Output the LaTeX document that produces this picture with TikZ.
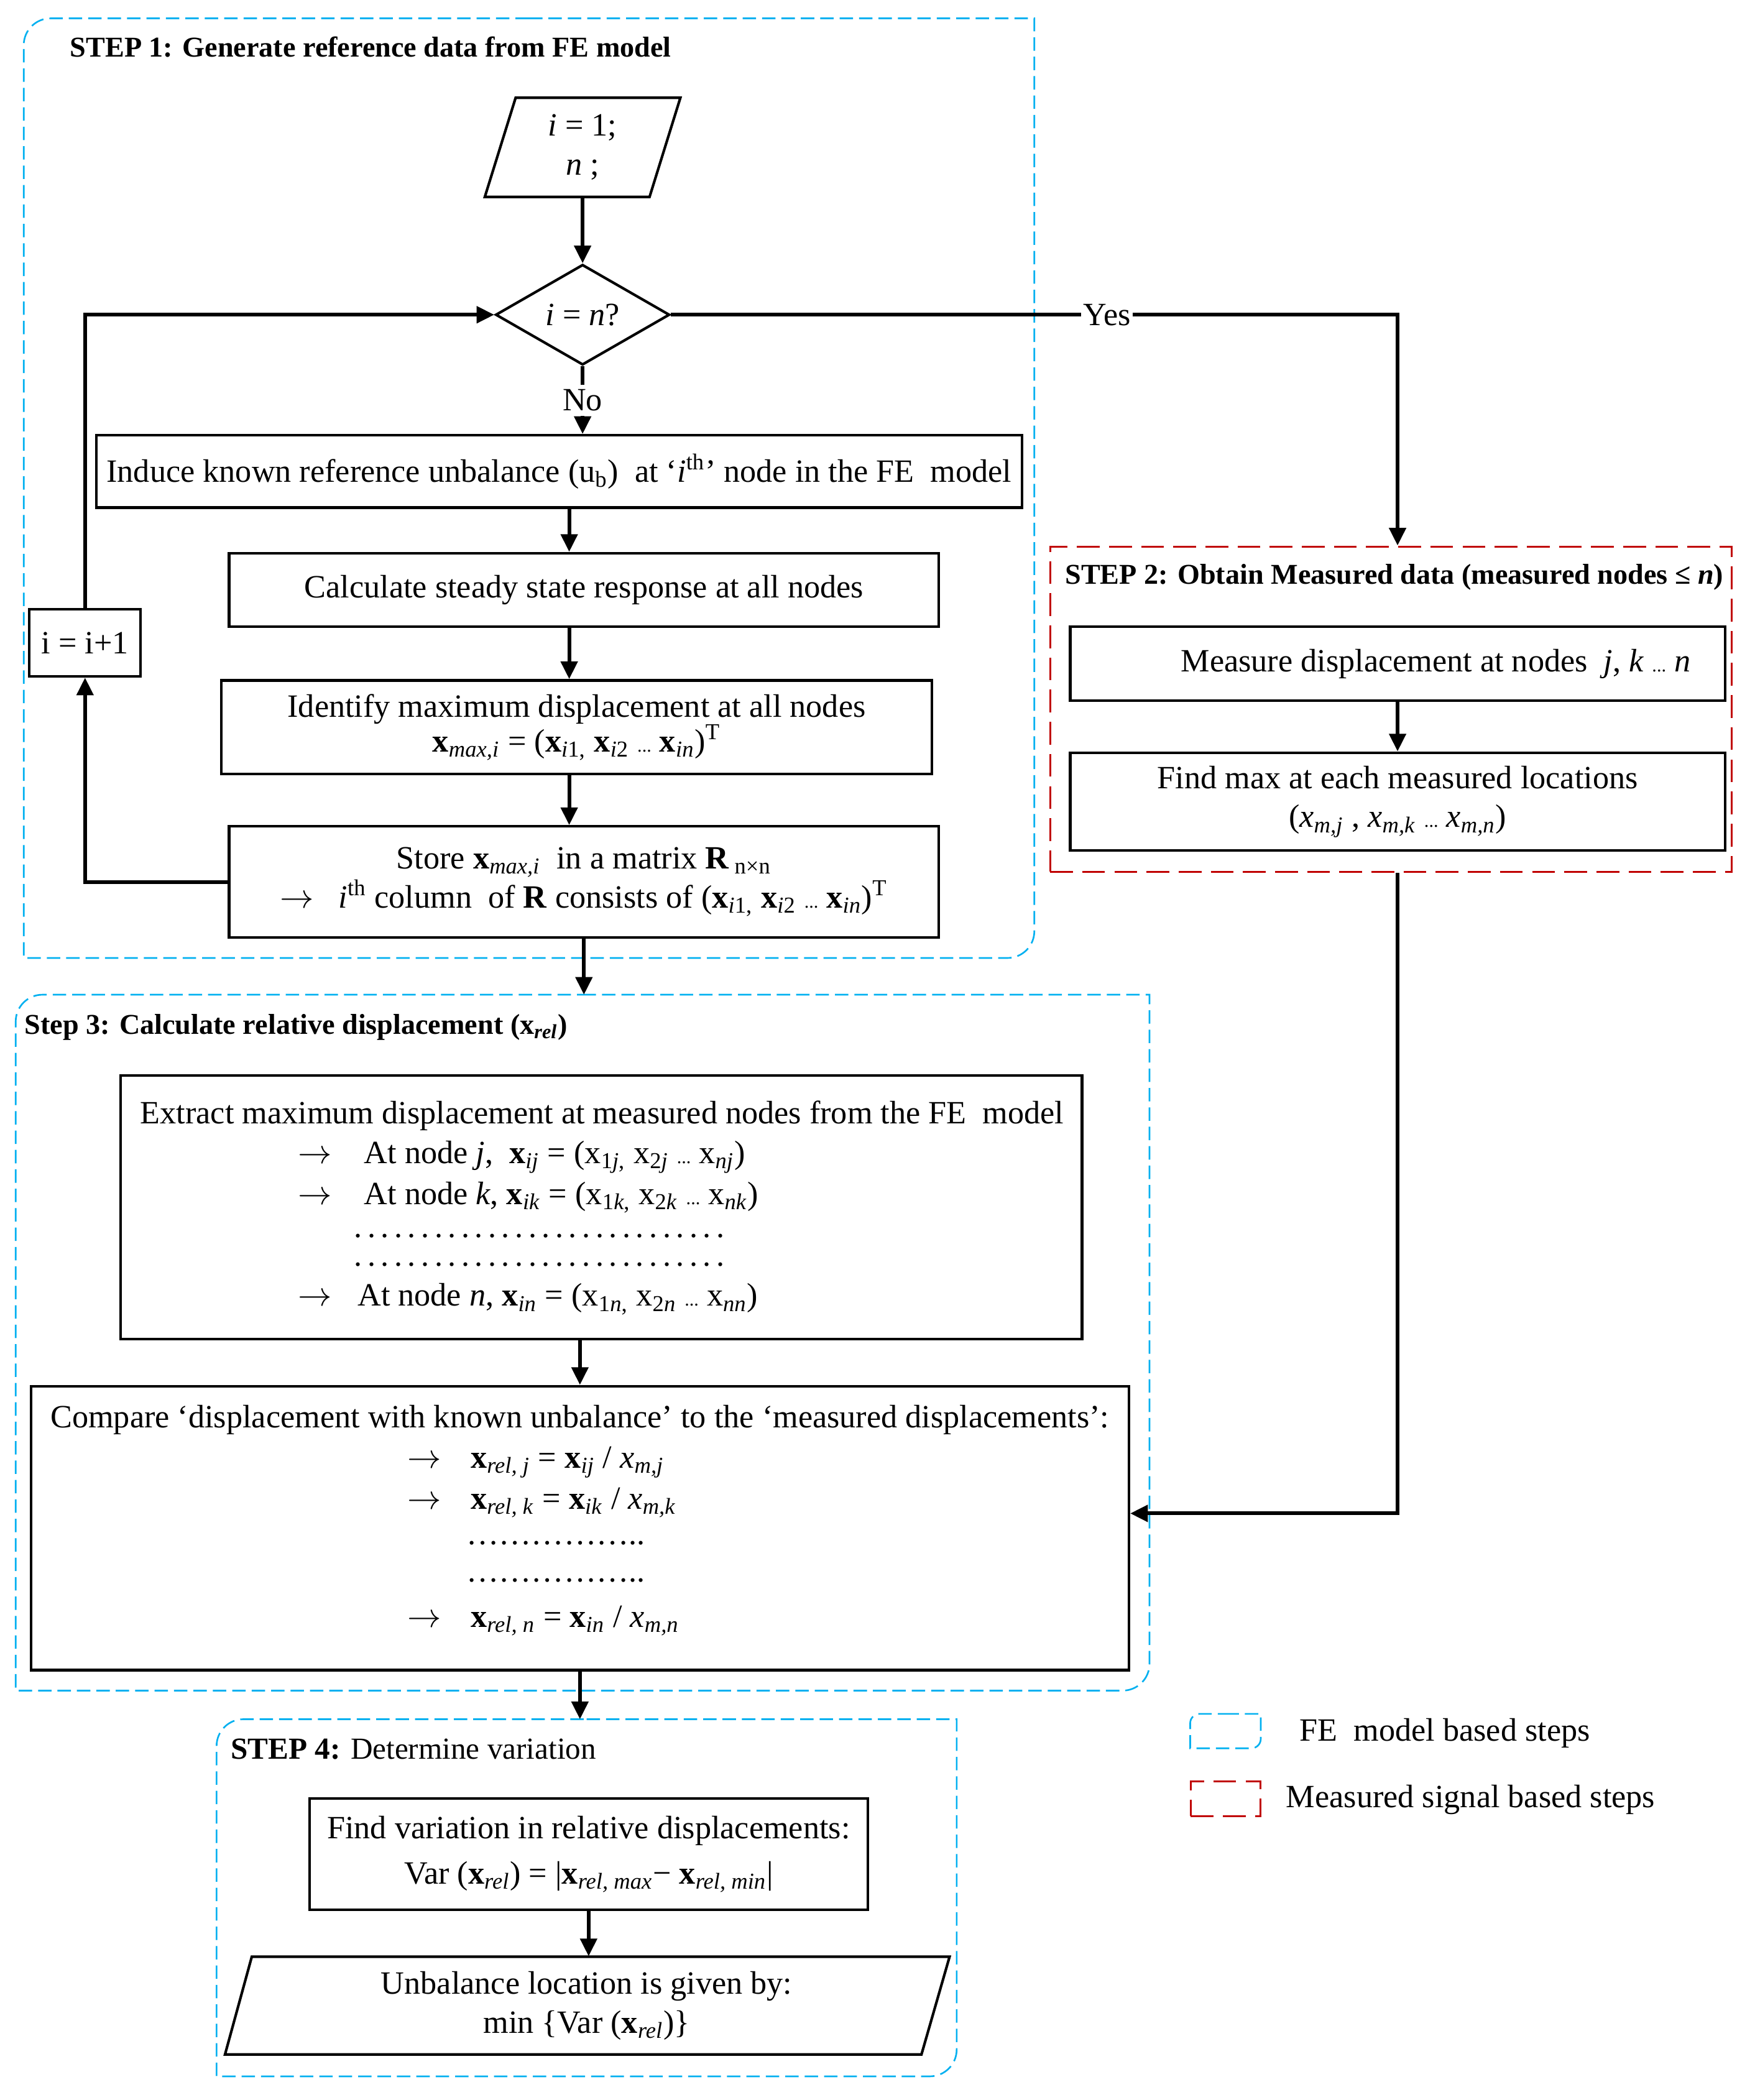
\documentclass[tikz,border=0pt]{standalone}
\usepackage{fontspec}
\setmainfont{Liberation Serif}
\usepackage{xcolor}
\usetikzlibrary{positioning, arrows.meta, shapes.geometric, calc}
\definecolor{feblue}{RGB}{0,176,240}
\definecolor{msred}{RGB}{192,0,0}
% small dots used in the formulas
\newcommand{\sdots}{{\fontsize{8}{8}\selectfont ...}}
% outline of an FE model group (two rounded corners)
\newcommand{\fegroup}[2]{%
  \draw[fedash] (#1.north) -- (#1.north east) [rounded corners=#2] -- (#1.south east)
    [sharp corners] -- (#1.south west) [rounded corners=#2] -- (#1.north west)
    [sharp corners] -- (#1.north);}

\begin{document}
\begin{tikzpicture}[
    x=0.02cm, y=-0.02cm,
    font=\fontsize{13.8}{16.6}\selectfont,
    box/.style={rectangle, draw, line width=1.1pt, inner sep=0pt, align=center},
    group/.style={rectangle, inner sep=0pt},
    txt/.style={inner sep=0pt, align=center},
    row/.style={anchor=west, inner sep=0pt},
    fedash/.style={draw=feblue, line width=0.7pt, dash pattern=on 0.2cm off 0.09cm},
    msdash/.style={draw=msred, line width=0.8pt, dash pattern=on 0.34cm off 0.14cm},
    title/.style={anchor=west, inner sep=0pt, font=\fontsize{12.2}{14}\selectfont\bfseries},
    flow/.style={-{Triangle[length=7.5pt, width=7pt]}, line width=1.6pt}
]
    \useasboundingbox (0,0) rectangle (1310,1568);

    % STEP 1: reference data from the FE model
    \node[group, minimum width=15.08cm, minimum height=14.02cm] (s1) at (395,364.5) {};
    \fegroup{s1}{0.4cm}
    \node[title] (s1title) at (52,35) {STEP 1: Generate reference data from FE model};

    \draw[line width=1.1pt] (385,73) -- (508,73) -- (485,147) -- (362,147) -- cycle;
    \node[txt, minimum height=1.48cm] (init) at (435,110) {\textit{i} = 1;\\\textit{n} ;};
    \node[diamond, draw, line width=1.1pt, minimum width=2.6cm, minimum height=1.5cm,
          inner sep=0pt] (check) at (435,235) {\textit{i} = \textit{n}?};

    \node[box, minimum width=13.82cm, minimum height=1.08cm] (induce) at (417.5,352)
        {Induce known reference unbalance (u\textsubscript{b})~ at ‘\textit{i}\textsuperscript{th}’ node in the FE~ model};
    \node[box, minimum width=10.6cm, minimum height=1.1cm] (calc) at (436,440.5)
        {Calculate steady state response at all nodes};
    \node[box, minimum width=10.62cm, minimum height=1.4cm] (ident) at (430.5,543)
        {Identify maximum displacement at all nodes\\[-0.06cm]
         \textbf{x}\textsubscript{\textit{max,i}} = (\textbf{x}\textsubscript{\textit{i}1,} \textbf{x}\textsubscript{\textit{i}2} \sdots\ \textbf{x}\textsubscript{\textit{in}})\textsuperscript{T}};
    \node[box, minimum width=10.6cm, minimum height=1.66cm] (store) at (436,658.5)
        {Store \textbf{x}\textsubscript{\textit{max,i}}~ in a matrix \textbf{R}\,\textsubscript{n×n}\\
         $\rightarrow$~~ \textit{i}\textsuperscript{th} column~ of \textbf{R} consists of (\textbf{x}\textsubscript{\textit{i}1,} \textbf{x}\textsubscript{\textit{i}2} \sdots\ \textbf{x}\textsubscript{\textit{in}})\textsuperscript{T}};
    \node[box, minimum width=1.66cm, minimum height=1cm] (incr) at (63.5,480) {i = i+1};
    \coordinate (spine) at (425,0);

    % STEP 2: measured data
    \node[group, msdash, minimum width=10.18cm, minimum height=4.86cm] (s2) at (1038.5,529.5) {};
    \node[title] (s2title) at (795,431) {STEP 2: Obtain Measured data (measured nodes ≤ \textit{n})};
    \node[box, minimum width=9.78cm, minimum height=1.1cm] (measure) at (1043.5,495.5)
        {\hspace*{1.14cm}Measure displacement at nodes~ \textit{j}, \textit{k} \sdots\ \textit{n}};
    \node[box, minimum width=9.78cm, minimum height=1.46cm] (find) at (1043.5,598.5)
        {Find max at each measured locations\\
         (\textit{x}\textsubscript{\textit{m,j}} , \textit{x}\textsubscript{\textit{m,k}} \sdots\ \textit{x}\textsubscript{\textit{m,n}})};

    % Step 3: relative displacement
    \node[group, minimum width=16.92cm, minimum height=10.38cm] (s3) at (435,1002.5) {};
    \fegroup{s3}{0.4cm}
    \node[title] (s3title) at (18,767) {Step 3: Calculate relative displacement (x\textsubscript{\textit{rel}})};

    \node[box, minimum width=14.36cm, minimum height=3.94cm] (extract) at (449,901.5) {};
    \node[txt] (exhead) at (449.5,833) {Extract maximum displacement at measured nodes from the FE~ model};
    \node[row] (exj) at (222,864) {$\rightarrow$\hspace{1em}At node \textit{j},~ \textbf{x}\textsubscript{\textit{ij}} = (x\textsubscript{1\textit{j},} x\textsubscript{2\textit{j}} \sdots\ x\textsubscript{\textit{nj}})};
    \node[row] (exk) at (222,894) {$\rightarrow$\hspace{1em}At node \textit{k}, \textbf{x}\textsubscript{\textit{ik}} = (x\textsubscript{1\textit{k},} x\textsubscript{2\textit{k}} \sdots\ x\textsubscript{\textit{nk}})};
    \node[row, align=left] (exdots) at (264,933.5)
        {\spaceskip=0.08em . . . . . . . . . . . . . . . . . . . . . . . . . . . .\\[-0.16cm]
         \spaceskip=0.08em . . . . . . . . . . . . . . . . . . . . . . . . . . . .};
    \node[row] (exn) at (222,970) {$\rightarrow$\hspace{0.8em}At node \textit{n}, \textbf{x}\textsubscript{\textit{in}} = (x\textsubscript{1\textit{n},} x\textsubscript{2\textit{n}} \sdots\ x\textsubscript{\textit{nn}})};

    \node[box, minimum width=16.4cm, minimum height=4.24cm] (compare) at (433,1141) {};
    \node[txt] (cphead) at (433,1060) {Compare ‘displacement with known unbalance’ to the ‘measured displacements’:};
    \node[row] (cpj) at (304,1092) {$\rightarrow$\hspace{0.9em}\textbf{x}\textsubscript{\textit{rel, j}} = \textbf{x}\textsubscript{\textit{ij}} / \textit{x}\textsubscript{\textit{m,j}}};
    \node[row] (cpk) at (304,1122) {$\rightarrow$\hspace{0.9em}\textbf{x}\textsubscript{\textit{rel, k}} = \textbf{x}\textsubscript{\textit{ik}} / \textit{x}\textsubscript{\textit{m,k}}};
    \node[row] (cpdots1) at (348,1152) {……………..};
    \node[row] (cpdots2) at (348,1180) {……………..};
    \node[row] (cpn) at (304,1210) {$\rightarrow$\hspace{0.9em}\textbf{x}\textsubscript{\textit{rel, n}} = \textbf{x}\textsubscript{\textit{in}} / \textit{x}\textsubscript{\textit{m,n}}};

    % STEP 4: variation
    \node[group, minimum width=11.04cm, minimum height=5.32cm] (s4) at (438,1417) {};
    \fegroup{s4}{0.4cm}
    \node[title, font=\fontsize{13}{15}\selectfont] (s4title) at (172,1306) {\textbf{STEP 4:} Determine variation};
    \node[box, minimum width=8.34cm, minimum height=1.66cm] (vary) at (439.5,1384.5)
        {Find variation in relative displacements:\\[0.1cm]
         Var (\textbf{x}\textsubscript{\textit{rel}}) = |\textbf{x}\textsubscript{\textit{rel, max}}− \textbf{x}\textsubscript{\textit{rel, min}}|};
    \draw[line width=1.1pt] (188,1461) -- (709,1461) -- (688,1534) -- (168,1534) -- cycle;
    \node[txt, minimum height=1.46cm] (result) at (438,1497.5)
        {Unbalance location is given by:\\ min \{Var (\textbf{x}\textsubscript{\textit{rel}})\}};

    % Connectors
    \draw[flow] (init.south) -- (check.north);
    \draw[flow] (check.south) -- node[fill=white, inner sep=2pt] {No} (check.south |- induce.north);
    \draw[flow] (check.east) -- node[pos=0.6, fill=white, inner sep=1pt] {Yes}
        (check.east -| measure) -- (measure |- s2.north);
    \draw[flow] (induce.south -| spine) -- (calc.north -| spine);
    \draw[flow] (calc.south -| spine) -- (ident.north -| spine);
    \draw[flow] (ident.south -| spine) -- (store.north -| spine);
    \draw[flow] (store.west) -- (store.west -| incr) -- (incr.south);
    \draw[flow] (incr.north) |- (check.west);
    \draw[flow] (store.south) -- (store.south |- s3.north);
    \draw[flow] (measure) -- (find);
    \draw[flow] (extract.south -| compare.north) -- (compare.north);
    \draw[flow] (s2.south -| find.south) |- ([yshift=0.22cm]compare.east);
    \draw[flow] (compare.south) -- (compare.south |- s4.north);
    \draw[flow] (vary.south) -- (vary.south |- result.north);

    % Legend
    \node[group, minimum width=1.04cm, minimum height=0.5cm] (fekey) at (915,1292.5) {};
    \fegroup{fekey}{0.14cm}
    \node[row] (fetext) at (970,1294) {FE~ model based steps};
    \node[group, msdash, minimum width=1.04cm, minimum height=0.52cm] (mskey) at (915,1343) {};
    \node[row] (mstext) at (960,1344) {Measured signal based steps};
\end{tikzpicture}
\end{document}
